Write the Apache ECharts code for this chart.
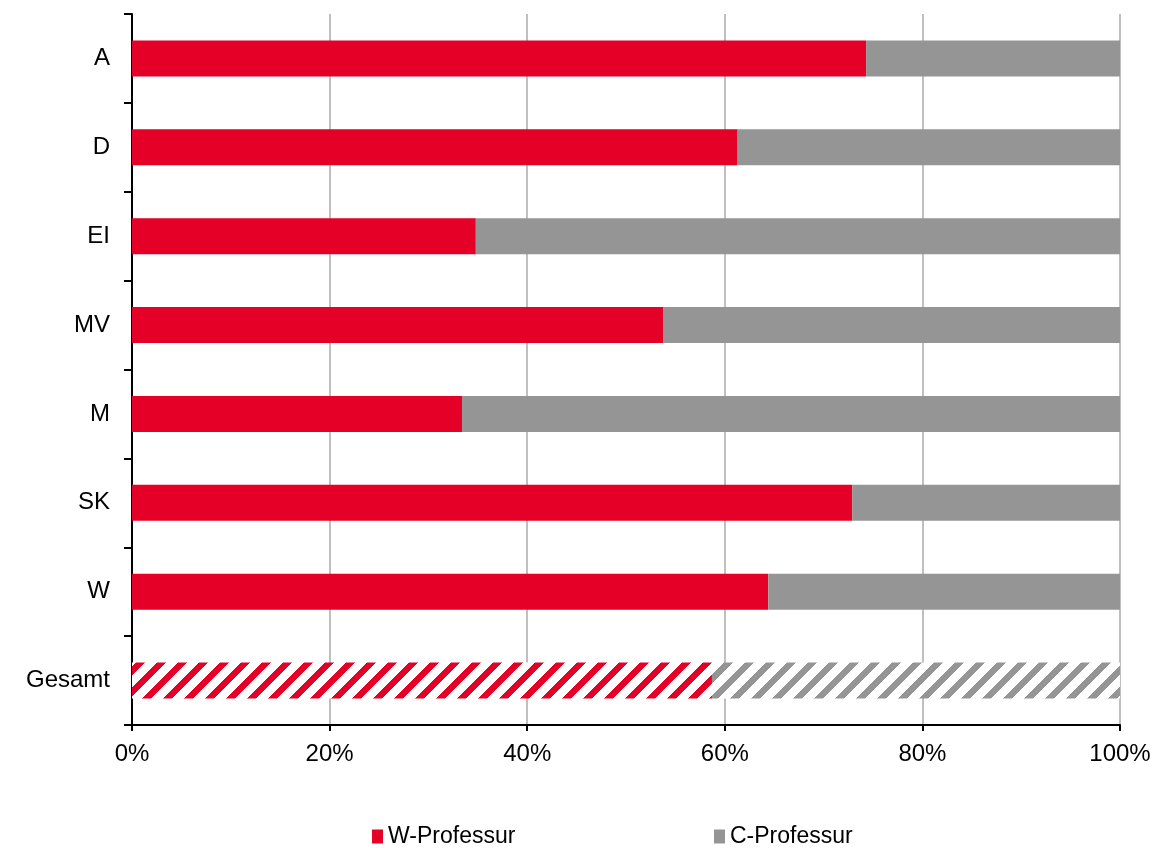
<!DOCTYPE html>
<html><head><meta charset="utf-8">
<script src="https://cdn.jsdelivr.net/npm/echarts@6/dist/echarts.min.js"></script>
<style>html,body{margin:0;padding:0;background:#fff}#c{width:1156px;height:848px}</style>
</head><body><div id="c"></div>
<script>
const categories = ['A','D','EI','MV','M','SK','W','Gesamt'];
const wValues = [74.3, 61.3, 34.8, 53.8, 33.4, 72.9, 64.4, 58.7];
const cValues = [25.7, 38.7, 65.2, 46.2, 66.6, 27.1, 35.6, 41.3];
const xTicks = [0, 20, 40, 60, 80, 100];
const seriesNames = ['W-Professur', 'C-Professur'];

const RED = '#e50027';
const GRAY = '#959595';
const FONT = 'Liberation Sans, Arial, sans-serif';

function hatch(color){
  const s = 21, w = 9;
  const c = document.createElement('canvas');
  c.width = s; c.height = s;
  const g = c.getContext('2d');
  g.fillStyle = '#fff'; g.fillRect(0,0,s,s);
  g.fillStyle = color;
  for (let y=0;y<s;y++) for (let x=0;x<s;x++){
    if (((x + y) % s) < w) g.fillRect(x,y,1,1);
  }
  return {image: c, repeat: 'repeat'};
}

function mk(vals, color){
  return vals.map((v,i)=> categories[i]==='Gesamt'
    ? {value: v, itemStyle: {color: hatch(color)}}
    : {value: v});
}

const legendText = {fontSize: 23, color: '#000', fontFamily: FONT};
const chart = echarts.init(document.getElementById('c'));
chart.setOption({
  animation: false,
  textStyle: {fontFamily: FONT},
  grid: {left: 132, right: 36, top: 14, bottom: 123, containLabel: false},
  legend: [
    {data: [seriesNames[0]], left: 372, top: 825, padding: 0, itemWidth: 11, itemHeight: 14, itemGap: 5, icon: 'rect', textStyle: legendText},
    {data: [seriesNames[1]], left: 714, top: 825, padding: 0, itemWidth: 11, itemHeight: 14, itemGap: 5, icon: 'rect', textStyle: legendText}
  ],
  xAxis: {
    type: 'value', min: 0, max: 100, interval: 20,
    axisLine: {show: true, lineStyle: {color: '#000', width: 2}},
    axisTick: {show: true, length: 6, lineStyle: {color: '#000', width: 2}},
    axisLabel: {formatter: v => xTicks.includes(v) ? v + '%' : '', fontSize: 24, color: '#000', margin: 17},
    splitLine: {show: true, lineStyle: {color: '#bfbfbf', width: 2}}
  },
  yAxis: {
    type: 'category', data: categories, inverse: true,
    axisLine: {show: true, lineStyle: {color: '#000', width: 2}},
    axisTick: {show: true, length: 8, lineStyle: {color: '#000', width: 2}},
    axisLabel: {fontSize: 24, color: '#000', margin: 22}
  },
  series: [
    {name: seriesNames[0], type: 'bar', stack: 't', barWidth: 36, color: RED, data: mk(wValues, RED)},
    {name: seriesNames[1], type: 'bar', stack: 't', barWidth: 36, color: GRAY, data: mk(cValues, GRAY)}
  ]
});
</script></body></html>
